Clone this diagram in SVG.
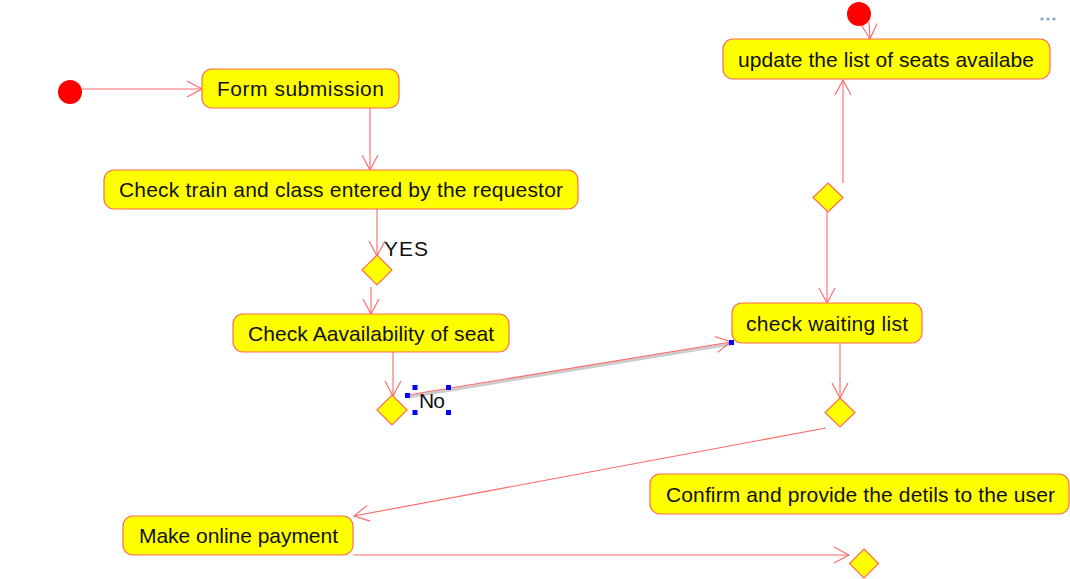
<svg xmlns="http://www.w3.org/2000/svg" width="1070" height="579" viewBox="0 0 1070 579">
<style>
.box{fill:#ffff00;stroke:#ff6a50;stroke-width:1.2}
.dia{fill:#ffff00;stroke:#ff6a50;stroke-width:1.2}
.start{fill:#ff0000}
.t{font-family:"Liberation Sans",Arial,sans-serif;font-size:21px;fill:#111}
.c{fill:none;stroke:#ff6666;stroke-width:1.1}
.h{fill:#0000ff}
</style>
<defs>
<marker id="arr" markerUnits="userSpaceOnUse" markerWidth="20" markerHeight="20" viewBox="-16 -10 18 20" refX="0" refY="0" orient="auto">
<path d="M-15,-8 L0,0 L-15,8" fill="none" stroke="#ff6666" stroke-width="1.1"/>
</marker>
</defs>
<rect width="1070" height="579" fill="#ffffff"/>
<g id="connectors">
<line class="c" x1="82" y1="89" x2="202" y2="89" marker-end="url(#arr)"/>
<line class="c" x1="370" y1="108" x2="370" y2="170" marker-end="url(#arr)"/>
<line class="c" x1="377" y1="209" x2="377" y2="256" marker-end="url(#arr)"/>
<line class="c" x1="371" y1="287" x2="371" y2="314" marker-end="url(#arr)"/>
<line class="c" x1="393" y1="352" x2="393" y2="396" marker-end="url(#arr)"/>
<line x1="408" y1="397" x2="731" y2="344" stroke="#cccccc" stroke-width="3"/>
<line class="c" x1="408" y1="395" x2="731" y2="342" marker-end="url(#arr)"/>
<line class="c" x1="827" y1="212" x2="827" y2="303" marker-end="url(#arr)"/>
<line class="c" x1="843" y1="183" x2="843" y2="80" marker-end="url(#arr)"/>
<line class="c" x1="869" y1="22" x2="870" y2="39" marker-end="url(#arr)"/>
<line class="c" x1="840" y1="343" x2="840" y2="398" marker-end="url(#arr)"/>
<line class="c" x1="826" y1="428" x2="354" y2="516" marker-end="url(#arr)"/>
<line class="c" x1="353" y1="555" x2="849" y2="555" marker-end="url(#arr)"/>
</g>
<g id="start1"><circle class="start" cx="70" cy="92" r="12"/></g>
<g id="start2"><circle class="start" cx="859" cy="14" r="12"/></g>
<g id="form"><rect class="box" x="202" y="69" width="197" height="39" rx="10"/><text class="t" x="217" y="96" textLength="167" lengthAdjust="spacing">Form submission</text></g>
<g id="checktrain"><rect class="box" x="104" y="170" width="474" height="39" rx="10"/><text class="t" x="119" y="197" textLength="444" lengthAdjust="spacing">Check train and class entered by the requestor</text></g>
<g id="yes"><text class="t" x="384" y="256" textLength="44" lengthAdjust="spacing">YES</text></g>
<g id="d1"><polygon class="dia" points="377,255 392,270 377,285 362,270"/></g>
<g id="checkavail"><rect class="box" x="233" y="314" width="276" height="38" rx="10"/><text class="t" x="248" y="341" textLength="246" lengthAdjust="spacing">Check Aavailability of seat</text></g>
<g id="d2"><polygon class="dia" points="392,395 407,410 392,425 377,410"/></g>
<g id="no"><text class="t" x="419" y="408" textLength="26" lengthAdjust="spacing">No</text>
<rect class="h" x="405" y="393" width="5" height="5"/><rect class="h" x="412.5" y="385" width="5" height="5"/><rect class="h" x="446" y="385" width="5" height="5"/><rect class="h" x="412.5" y="410" width="5" height="5"/><rect class="h" x="446" y="410" width="5" height="5"/><rect class="h" x="729" y="340" width="5" height="5"/></g>
<g id="update"><rect class="box" x="723" y="39" width="327" height="40" rx="10"/><text class="t" x="738" y="67" textLength="296" lengthAdjust="spacing">update the list of seats availabe</text></g>
<g id="d3"><polygon class="dia" points="828,183 843,197.5 828,212 813,197.5"/></g>
<g id="waiting"><rect class="box" x="732" y="303" width="190" height="40" rx="10"/><text class="t" x="746" y="331" textLength="162" lengthAdjust="spacing">check waiting list</text></g>
<g id="d4"><polygon class="dia" points="840,398 855,412.5 840,427 825,412.5"/></g>
<g id="confirm"><rect class="box" x="650" y="474" width="419" height="40" rx="10"/><text class="t" x="666" y="502" textLength="389" lengthAdjust="spacing">Confirm and provide the detils to the user</text></g>
<g id="payment"><rect class="box" x="123" y="516" width="230" height="39" rx="10"/><text class="t" x="139" y="543" textLength="199" lengthAdjust="spacing">Make online payment</text></g>
<g id="d5"><polygon class="dia" points="864,549 878.5,563.5 864,578 849.5,563.5"/></g>
<g id="dots" fill="#7fa0d0"><circle cx="1042" cy="19" r="1.6"/><circle cx="1048" cy="19" r="1.6"/><circle cx="1054" cy="19" r="1.6"/></g>
</svg>
